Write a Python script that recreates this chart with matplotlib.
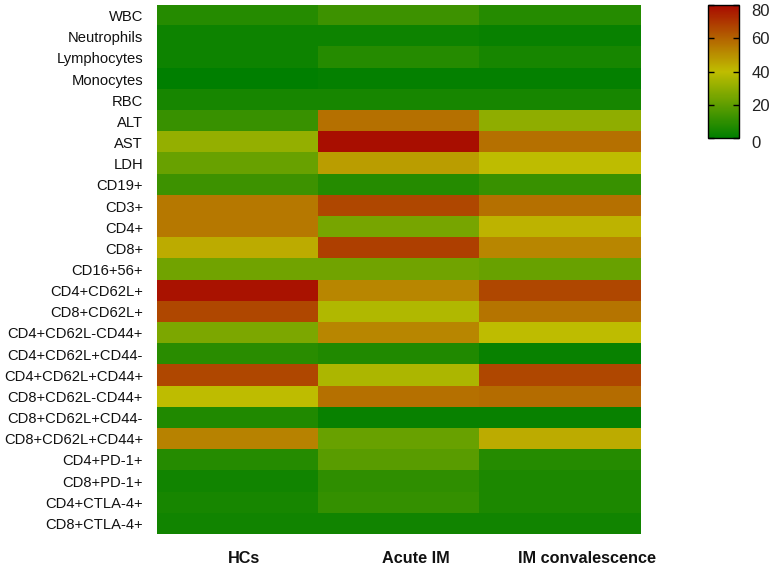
import numpy as np
import matplotlib
matplotlib.use("Agg")
import matplotlib.pyplot as plt
from matplotlib.colors import LinearSegmentedColormap
from matplotlib.transforms import ScaledTranslation

rows = ["WBC", "Neutrophils", "Lymphocytes", "Monocytes", "RBC", "ALT", "AST", "LDH",
        "CD19+", "CD3+", "CD4+", "CD8+", "CD16+56+", "CD4+CD62L+", "CD8+CD62L+",
        "CD4+CD62L-CD44+", "CD4+CD62L+CD44-", "CD4+CD62L+CD44+", "CD8+CD62L-CD44+",
        "CD8+CD62L+CD44-", "CD8+CD62L+CD44+", "CD4+PD-1+", "CD8+PD-1+", "CD4+CTLA-4+",
        "CD8+CTLA-4+"]
groups = ["HCs", "Acute IM", "IM convalescence"]

hcs = [8, 3, 3, 0, 5, 12, 31, 22, 13, 55, 55, 44, 24, 78, 66, 26, 9, 66, 40, 7, 53, 8, 4, 5, 4]
acute = [13, 3, 8, 1, 5, 57, 79, 47, 8, 66, 25, 68, 24, 52, 37, 52, 7, 36, 57, 2, 22, 19, 10, 11, 4]
conv = [8, 2, 5, 1, 5, 30, 57, 40, 12, 57, 42, 52, 22, 66, 56, 40, 2, 66, 58, 2, 44, 8, 6, 6, 4]

cbar_ticks = [0, 20, 40, 60, 80]

data = np.array([hcs, acute, conv]).T

cmap = LinearSegmentedColormap.from_list("gyr", ["#007f00", "#bfbd00", "#a80a00"])

fig = plt.figure(figsize=(7.7, 5.66), dpi=100)
plt.rcParams['font.family'] = ['Liberation Sans', 'DejaVu Sans']
ax = fig.add_axes([0.2039, 0.0565, 0.6273, 0.9347])
im = ax.imshow(data, cmap=cmap, vmin=0, vmax=80, aspect='auto', interpolation='nearest')
ax.set_yticks(np.arange(len(rows)))
ax.set_yticklabels(rows, fontsize=10.6, color='#111111')
ax.set_xticks(np.arange(len(groups)))
ax.set_xticklabels(groups, fontsize=11.7, fontweight='bold', color='#111111')
ax.tick_params(axis='both', length=0)
ax.tick_params(axis='y', pad=10)
ax.tick_params(axis='x', pad=12)
for s in ax.spines.values():
    s.set_visible(False)
offsets = [6, 17, 27]
for lab, off in zip(ax.get_xticklabels(), offsets):
    lab.set_transform(lab.get_transform() + ScaledTranslation(off / 100, 0, fig.dpi_scale_trans))

cax = fig.add_axes([0.9195, 0.756, 0.0402, 0.235])
cb = fig.colorbar(im, cax=cax, ticks=cbar_ticks)
cb.outline.set_edgecolor('black')
cb.outline.set_linewidth(1.0)
cax.tick_params(axis='y', direction='in', length=4, width=1, labelsize=12,
                pad=9, colors='black', labelcolor='#222222', left=True, right=True)
cl = cax.get_yticklabels()
cl[0].set_transform(cl[0].get_transform() + ScaledTranslation(0, -0.04, fig.dpi_scale_trans))
cl[-1].set_transform(cl[-1].get_transform() + ScaledTranslation(0, -0.05, fig.dpi_scale_trans))
plt.savefig("out.png", dpi=100)
